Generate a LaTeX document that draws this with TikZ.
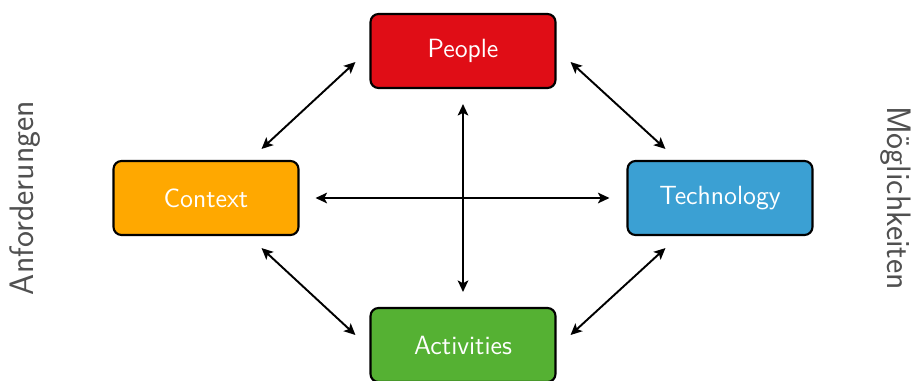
\documentclass[tikz,border=0pt]{standalone}
\usepackage{fontspec}
\usetikzlibrary{arrows.meta,calc}

\definecolor{peoplered}{HTML}{E00D16}
\definecolor{contextorange}{HTML}{FFA800}
\definecolor{techblue}{HTML}{3BA0D3}
\definecolor{activgreen}{HTML}{55B133}
\definecolor{sidegray}{HTML}{505050}

\tikzset{
	box/.style={draw=black, line width=1.2pt, rounded corners=0.16cm,
		minimum width=3.7cm, minimum height=1.48cm, text=white,
		font=\sffamily\fontsize{15}{18}\selectfont},
	link/.style={line width=1.1pt, {Stealth[length=6.5pt,width=6pt,inset=1.5pt]}-{Stealth[length=6.5pt,width=6pt,inset=1.5pt]}},
	side/.style={text=sidegray, font=\sffamily\fontsize{19.3}{22}\selectfont}
}

\begin{document}
\begin{tikzpicture}[x=0.02cm, y=-0.02cm]
			\useasboundingbox (0,0) rectangle (914,380);

			% boxes
			\node[box, fill=peoplered] (people) at (463,51) {People};
			\node[box, fill=contextorange] (context) at (206,198) {Context};
			\node[box, fill=techblue] (technology) at (720,198) {Technology};
			\node[box, fill=activgreen] (activities) at (463,345) {Activities};

			% side labels
			\node[side, rotate=90] (anf) at (25,198) {Anforderungen};
			\node[side, rotate=-90] (moeg) at (896,198) {Möglichkeiten};

			% cross
			\draw [link] ($(context.east)+(16,0)$) -- ($(technology.west)+(-17,0)$) ;
			\draw [link] ($(people.south)+(0,15)$) -- ($(activities.north)+(0,-15)$) ;

			% diagonals
			\draw [link] ($(context.north east)+(-38,-11)$) -- ($(people.west)+(-14,11)$) ;
			\draw [link] ($(people.east)+(14,11)$) -- ($(technology.north west)+(39,-11)$) ;
			\draw [link] ($(context.south east)+(-38,12)$) -- ($(activities.west)+(-14,-10)$) ;
			\draw [link] ($(activities.east)+(14,-10)$) -- ($(technology.south west)+(39,12)$) ;

		\end{tikzpicture}
\end{document}
